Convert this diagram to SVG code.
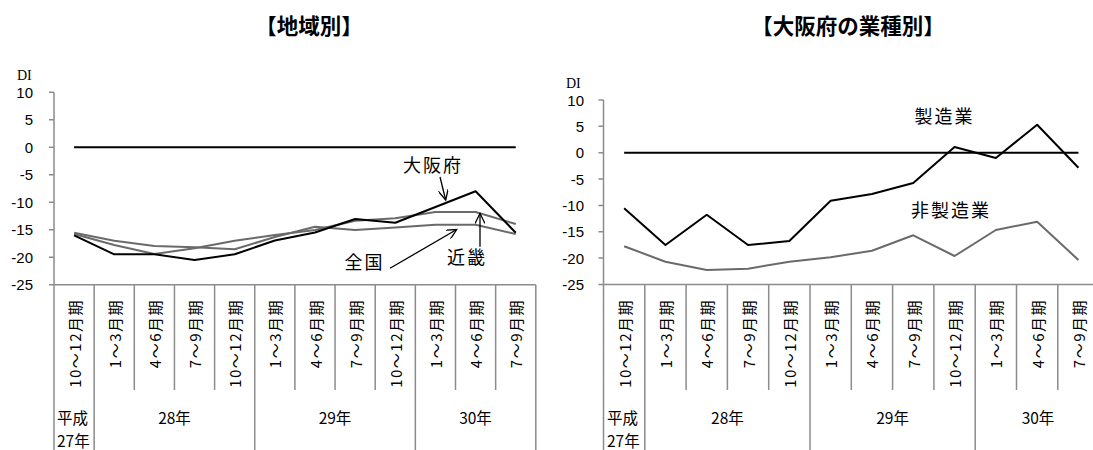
<svg xmlns="http://www.w3.org/2000/svg" width="1093" height="450" viewBox="0 0 1093 450">
<style>
.title{font-family:"Noto Sans CJK JP","Noto Sans",sans-serif;font-size:21.5px;font-weight:bold;fill:#000;text-anchor:middle}
.tick{font-family:"Liberation Sans",Arial,sans-serif;font-size:15px;fill:#000;text-anchor:end}
.di{font-family:"Liberation Serif",serif;font-size:14px;fill:#000}
.cat{font-family:"Noto Sans CJK JP",sans-serif;font-size:15px;fill:#000;text-anchor:end;dominant-baseline:central;letter-spacing:1.5px}
.yr{font-family:"Noto Sans CJK JP",sans-serif;font-size:15.5px;fill:#000}
.lbl{font-family:"Noto Sans CJK JP",sans-serif;font-size:18px;fill:#000;letter-spacing:2px;text-anchor:middle}
.axis{stroke:#8c8c8c;stroke-width:1.5;fill:none}
.zero{stroke:#000;stroke-width:2;fill:none}
.blk{stroke:#000;stroke-width:2;fill:none;stroke-linejoin:round}
.gry{stroke:#6a6a6a;stroke-width:2;fill:none;stroke-linejoin:round}
.arr{stroke:#000;stroke-width:1.3;fill:none;marker-end:url(#ah)}
</style>
<defs>
<marker id="ah" markerUnits="userSpaceOnUse" markerWidth="12" markerHeight="10" refX="10" refY="5" orient="auto">
<path d="M0,0 L10,5 L0,10" fill="none" stroke="#000" stroke-width="1.3"/>
</marker>
</defs>
<rect width="1093" height="450" fill="#fff"/>

<!-- LEFT CHART -->
<g id="chart-left">
<text class="title" x="309" y="34">【地域別】</text>
<text class="di" x="17" y="80">DI</text>
<g id="left-yaxis">
<text class="tick" x="33" y="97.8">10</text>
<text class="tick" x="33" y="125.3">5</text>
<text class="tick" x="33" y="152.8">0</text>
<text class="tick" x="33" y="180.3">-5</text>
<text class="tick" x="33" y="207.8">-10</text>
<text class="tick" x="33" y="235.3">-15</text>
<text class="tick" x="33" y="262.8">-20</text>
<text class="tick" x="33" y="290.3">-25</text>
<path class="axis" d="M54,92.3 V450 M49,92.3 H54 M49,119.8 H54 M49,147.3 H54 M49,174.8 H54 M49,202.3 H54 M49,229.8 H54 M49,257.3 H54 M49,284.8 H54"/>
</g>
<g id="left-xaxis">
<path class="axis" d="M54,284.8 H535.8 M94.15,284.8 V450 M254.75,284.8 V450 M415.35,284.8 V450 M535.8,284.8 V450 M134.3,284.8 V390 M174.45,284.8 V390 M214.6,284.8 V390 M294.9,284.8 V390 M335.05,284.8 V390 M375.2,284.8 V390 M455.5,284.8 V390 M495.65,284.8 V390"/>
<text class="cat" transform="translate(74.1,299) rotate(-90)">10～12月期</text>
<text class="cat" transform="translate(114.25,299) rotate(-90)">1～3月期</text>
<text class="cat" transform="translate(154.4,299) rotate(-90)">4～6月期</text>
<text class="cat" transform="translate(194.55,299) rotate(-90)">7～9月期</text>
<text class="cat" transform="translate(234.7,299) rotate(-90)">10～12月期</text>
<text class="cat" transform="translate(274.85,299) rotate(-90)">1～3月期</text>
<text class="cat" transform="translate(315,299) rotate(-90)">4～6月期</text>
<text class="cat" transform="translate(355.15,299) rotate(-90)">7～9月期</text>
<text class="cat" transform="translate(395.3,299) rotate(-90)">10～12月期</text>
<text class="cat" transform="translate(435.45,299) rotate(-90)">1～3月期</text>
<text class="cat" transform="translate(475.6,299) rotate(-90)">4～6月期</text>
<text class="cat" transform="translate(515.75,299) rotate(-90)">7～9月期</text>
<text class="yr" x="57" y="424">平成</text>
<text class="yr" x="57" y="447">27年</text>
<text class="yr" x="174.5" y="424" text-anchor="middle">28年</text>
<text class="yr" x="335" y="424" text-anchor="middle">29年</text>
<text class="yr" x="475.5" y="424" text-anchor="middle">30年</text>
</g>
<path class="zero" d="M74.1,147.3 H515.75"/>
<g id="series-zenkoku">
<polyline class="gry" points="74.1,232.7 114.25,240.7 154.4,246 194.55,247.3 234.7,249.3 274.85,237 315,226.7 355.15,230 395.3,227.5 435.45,224.7 475.6,224.7 515.75,234"/>
</g>
<g id="series-kinki">
<polyline class="gry" points="74.1,234 114.25,245 154.4,254 194.55,248.3 234.7,240.7 274.85,235 315,230 355.15,220.7 395.3,218.3 435.45,212 475.6,212 515.75,224"/>
</g>
<g id="series-osaka">
<polyline class="blk" points="74.1,235.3 114.25,254.3 154.4,254.3 194.55,260 234.7,254.3 274.85,240.5 315,232.5 355.15,219 395.3,222.7 435.45,207 475.6,191.3 515.75,232.7"/>
</g>
<g id="label-osaka"><text class="lbl" x="433" y="172">大阪府</text></g>
<g id="label-zenkoku"><text class="lbl" x="364.5" y="269">全国</text></g>
<g id="label-kinki"><text class="lbl" x="467" y="264">近畿</text></g>
<g id="left-connectors">
<path class="arr" d="M440,177 L445.7,200"/>
<path class="arr" d="M390,268.3 L456.7,229.5"/>
<path class="arr" d="M480,246.7 L480,213.5"/>
</g>
</g>

<!-- RIGHT CHART -->
<g id="chart-right">
<text class="title" x="848" y="34">【大阪府の業種別】</text>
<text class="di" x="566" y="88">DI</text>
<g id="right-yaxis">
<text class="tick" x="584" y="105.5">10</text>
<text class="tick" x="584" y="131.85">5</text>
<text class="tick" x="584" y="158.2">0</text>
<text class="tick" x="584" y="184.55">-5</text>
<text class="tick" x="584" y="210.9">-10</text>
<text class="tick" x="584" y="237.25">-15</text>
<text class="tick" x="584" y="263.6">-20</text>
<text class="tick" x="584" y="289.95">-25</text>
<path class="axis" d="M603.5,100 V450 M598.5,100 H603.5 M598.5,126.35 H603.5 M598.5,152.7 H603.5 M598.5,179.05 H603.5 M598.5,205.4 H603.5 M598.5,231.75 H603.5 M598.5,258.1 H603.5 M598.5,284.45 H603.5"/>
</g>
<g id="right-xaxis">
<path class="axis" d="M603.5,284.45 H1100 M644.8,284.45 V450 M810,284.45 V450 M975.2,284.45 V450 M686.1,284.45 V390 M727.4,284.45 V390 M768.7,284.45 V390 M851.3,284.45 V390 M892.6,284.45 V390 M933.9,284.45 V390 M1016.5,284.45 V390 M1057.8,284.45 V390"/>
<text class="cat" transform="translate(624.15,299) rotate(-90)">10～12月期</text>
<text class="cat" transform="translate(665.45,299) rotate(-90)">1～3月期</text>
<text class="cat" transform="translate(706.75,299) rotate(-90)">4～6月期</text>
<text class="cat" transform="translate(748.05,299) rotate(-90)">7～9月期</text>
<text class="cat" transform="translate(789.35,299) rotate(-90)">10～12月期</text>
<text class="cat" transform="translate(830.65,299) rotate(-90)">1～3月期</text>
<text class="cat" transform="translate(871.95,299) rotate(-90)">4～6月期</text>
<text class="cat" transform="translate(913.25,299) rotate(-90)">7～9月期</text>
<text class="cat" transform="translate(954.55,299) rotate(-90)">10～12月期</text>
<text class="cat" transform="translate(995.85,299) rotate(-90)">1～3月期</text>
<text class="cat" transform="translate(1037.15,299) rotate(-90)">4～6月期</text>
<text class="cat" transform="translate(1078.45,299) rotate(-90)">7～9月期</text>
<text class="yr" x="607" y="424">平成</text>
<text class="yr" x="607" y="447">27年</text>
<text class="yr" x="727.4" y="424" text-anchor="middle">28年</text>
<text class="yr" x="892.6" y="424" text-anchor="middle">29年</text>
<text class="yr" x="1038" y="424" text-anchor="middle">30年</text>
</g>
<path class="zero" d="M624.15,152.7 H1078.45"/>
<g id="series-hiseizo">
<polyline class="gry" points="624.15,246.3 665.45,261.7 706.75,270 748.05,268.7 789.35,261.7 830.65,257.3 871.95,250.7 913.25,235.3 954.55,256 995.85,230 1037.15,221.7 1078.45,260"/>
</g>
<g id="series-seizo">
<polyline class="blk" points="624.15,208.3 665.45,245 706.75,214.7 748.05,245 789.35,241 830.65,200.7 871.95,194 913.25,183 954.55,147 995.85,158 1037.15,124.7 1078.45,167.7"/>
</g>
<g id="label-seizo"><text class="lbl" x="944.5" y="123">製造業</text></g>
<g id="label-hiseizo"><text class="lbl" x="951" y="217">非製造業</text></g>
</g>
</svg>
